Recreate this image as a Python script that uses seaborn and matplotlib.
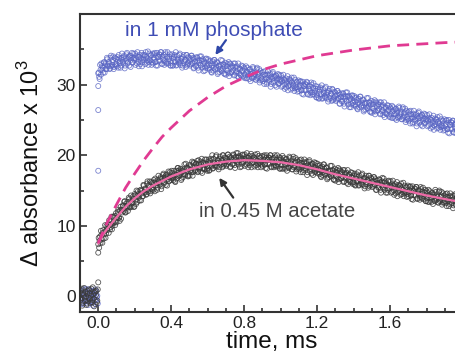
import numpy as np
import pandas as pd
import seaborn as sns
import matplotlib.pyplot as plt
from matplotlib.ticker import MultipleLocator

# ---------------- data ----------------
t_pre = np.round(np.arange(-0.1, 0.0, 0.005), 4)           # pre-trigger sampling grid (ms)
t_pre_b = np.round(np.arange(-0.0975, 0.0, 0.005), 4)
t_main = np.round(np.arange(0.0, 2.0, 0.005), 4)           # post-trigger sampling grid (ms)
t_main_b = np.round(np.arange(0.0025, 2.0, 0.005), 4)

blue_pre = [-0.4, 0.8, -1.0, 0.5, 0.0, -0.7, 1.1, -0.3, 0.6, -1.2,
            0.3, 0.9, -0.6, 0.2, -0.9, 0.7, -0.1, 1.0, -0.5, 0.1]
blue_pre_b = [0.5, -0.8, 0.2, -1.1, 0.9, -0.3, 0.6, -0.6, 1.0, 0.1,
              -0.9, 0.4, -0.2, 0.8, -1.3, 0.3, -0.5, 0.7, -0.1, -1.0]
black_pre = [0.6, -0.5, 1.1, -0.9, 0.2, -0.1, 0.7, -1.2, 0.4, -0.7,
             1.0, -0.4, 0.1, -0.8, 1.3, -0.3, 0.5, -1.1, 0.8, -0.6]
black_pre_b = [-0.3, 0.9, -1.3, 0.4, 1.2, -0.6, 0.0, -1.0, 0.8, -0.2,
               0.5, -0.9, 1.1, -0.5, 0.3, -1.4, 0.7, 0.2, -0.8, 1.0]

blue_jump_t = [0.0, 0.0, 0.0]
blue_jump_y = [17.8, 26.4, 29.8]
black_jump_t = [0.0, 0.0]
black_jump_y = [2.0, 6.2]

blue_main = [
    31.6, 31.1, 32.8, 31.4, 32.6, 32.4, 33.1, 31.7, 33.0, 32.2, 33.6, 32.6, 33.0, 32.3, 34.1, 32.8, 33.5, 32.2, 33.8, 32.7,
    32.9, 33.9, 32.4, 33.7, 33.3, 32.7, 34.4, 33.2, 33.9, 32.3, 33.7, 34.3, 33.0, 33.7, 32.7, 34.1, 33.5, 34.5, 33.2, 33.7,
    33.8, 32.8, 34.1, 34.6, 33.2, 33.9, 32.9, 33.7, 32.6, 34.2, 33.5, 34.1, 34.6, 33.1, 33.7, 32.8, 34.4, 33.4, 34.2, 33.2,
    33.0, 33.8, 34.5, 33.2, 34.1, 32.7, 33.9, 34.3, 33.4, 34.6, 32.9, 33.7, 34.2, 33.3, 34.3, 33.0, 34.6, 33.4, 33.9, 32.7,
    33.1, 34.3, 32.7, 33.9, 33.3, 34.6, 32.8, 33.6, 33.2, 34.2, 32.8, 33.7, 32.4, 33.9, 33.3, 33.5, 32.5, 34.2, 32.9, 33.9,
    33.4, 32.9, 34.1, 33.1, 33.8, 32.4, 33.3, 32.6, 33.9, 33.4, 32.0, 33.5, 32.8, 34.0, 32.4, 32.9, 33.3, 32.0, 33.6, 32.6,
    32.3, 33.3, 32.4, 33.4, 31.8, 32.7, 32.0, 33.5, 33.0, 32.4, 33.2, 31.5, 32.6, 31.8, 32.8, 32.0, 33.4, 32.9, 31.6, 32.6,
    31.4, 32.6, 32.0, 33.2, 31.6, 32.9, 31.7, 32.6, 32.1, 31.3, 33.0, 31.7, 32.6, 32.2, 31.0, 32.3, 31.4, 32.7, 32.0, 31.2,
    32.4, 31.4, 32.6, 30.9, 31.8, 31.5, 32.1, 30.5, 31.8, 30.9, 32.3, 31.1, 31.5, 30.7, 32.4, 31.1, 31.7, 30.3, 31.9, 30.7,
    30.8, 31.8, 30.1, 31.4, 31.0, 30.3, 31.9, 30.7, 31.4, 29.7, 31.1, 31.6, 30.3, 30.9, 29.9, 31.3, 30.6, 31.5, 30.2, 30.7,
    30.7, 29.7, 30.9, 31.4, 30.0, 30.6, 29.6, 30.4, 29.2, 30.8, 30.0, 30.5, 31.0, 29.5, 30.0, 29.1, 30.7, 29.6, 30.4, 29.4,
    29.1, 29.9, 30.5, 29.2, 30.0, 28.6, 29.8, 30.1, 29.2, 30.3, 28.6, 29.4, 29.8, 28.9, 30.0, 28.6, 30.2, 28.9, 29.4, 28.2,
    28.5, 29.7, 28.0, 29.3, 28.7, 29.9, 28.1, 28.9, 28.4, 29.5, 28.1, 28.9, 27.6, 29.1, 28.4, 28.7, 27.7, 29.3, 28.0, 29.0,
    28.4, 27.9, 29.1, 28.1, 28.8, 27.3, 28.3, 27.6, 28.8, 28.3, 26.9, 28.4, 27.7, 28.9, 27.2, 27.8, 28.2, 26.8, 28.4, 27.4,
    27.1, 28.1, 27.2, 28.2, 26.6, 27.4, 26.8, 28.3, 27.7, 27.1, 27.9, 26.2, 27.3, 26.5, 27.4, 26.7, 28.1, 27.5, 26.2, 27.2,
    26.0, 27.2, 26.6, 27.8, 26.2, 27.4, 26.3, 27.2, 26.6, 25.8, 27.5, 26.2, 27.1, 26.7, 25.4, 26.8, 25.9, 27.1, 26.4, 25.6,
    26.8, 25.8, 27.0, 25.3, 26.3, 25.9, 26.5, 25.0, 26.2, 25.3, 26.7, 25.5, 25.9, 25.1, 26.8, 25.5, 26.1, 24.7, 26.3, 25.1,
    25.2, 26.2, 24.5, 25.8, 25.4, 24.7, 26.3, 25.1, 25.7, 24.1, 25.5, 26.0, 24.6, 25.3, 24.3, 25.7, 24.9, 25.9, 24.6, 25.1,
    25.1, 24.1, 25.3, 25.8, 24.4, 25.0, 24.0, 24.8, 23.6, 25.2, 24.4, 25.0, 25.4, 23.9, 24.5, 23.6, 25.1, 24.1, 24.9, 23.9,
    23.6, 24.4, 25.0, 23.7, 24.6, 23.1, 24.3, 24.7, 23.7, 24.9, 23.2, 24.0, 24.4, 23.5, 24.6, 23.3, 24.8, 23.6, 24.1, 22.9,
]

blue_main_b = [
    31.7, 30.8, 32.1, 33.0, 32.1, 31.7, 33.2, 32.7, 32.2, 33.8, 32.7, 33.2, 32.2, 33.8, 32.6, 33.2, 34.0, 32.5, 32.9, 33.7,
    32.6, 33.5, 34.2, 33.1, 32.4, 33.8, 33.5, 33.0, 34.1, 32.7, 33.4, 34.5, 33.2, 33.9, 34.1, 32.5, 33.8, 33.1, 34.4, 33.5,
    34.4, 33.6, 33.0, 33.9, 32.6, 34.2, 33.4, 34.5, 33.2, 33.7, 34.2, 32.9, 33.9, 33.4, 34.7, 33.2, 33.6, 34.1, 32.8, 34.4,
    33.5, 34.3, 33.2, 32.7, 34.5, 33.9, 33.4, 34.2, 34.6, 33.0, 34.0, 33.5, 32.8, 34.6, 33.2, 33.9, 33.0, 33.6, 34.3, 32.7,
    34.0, 32.7, 33.7, 34.2, 33.2, 32.7, 34.1, 33.5, 33.0, 34.4, 33.3, 33.7, 32.7, 34.2, 33.0, 33.5, 34.2, 32.7, 33.1, 33.8,
    32.7, 33.6, 34.1, 33.0, 32.3, 33.7, 33.2, 32.7, 33.8, 32.4, 33.1, 34.0, 32.7, 33.4, 33.6, 31.9, 33.1, 32.4, 33.7, 32.8,
    33.6, 32.8, 32.1, 33.0, 31.7, 33.3, 32.4, 33.5, 32.2, 32.7, 33.1, 31.7, 32.7, 32.2, 33.5, 31.9, 32.3, 32.8, 31.5, 33.1,
    32.1, 32.9, 31.7, 31.2, 33.0, 32.4, 31.8, 32.6, 33.0, 31.4, 32.5, 31.9, 31.2, 33.0, 31.6, 32.2, 31.3, 31.9, 32.6, 31.0,
    32.2, 30.9, 31.8, 32.4, 31.3, 30.8, 32.2, 31.5, 31.0, 32.5, 31.4, 31.7, 30.7, 32.2, 30.9, 31.5, 32.2, 30.6, 31.0, 31.7,
    30.5, 31.4, 31.9, 30.8, 30.1, 31.4, 31.0, 30.5, 31.6, 30.1, 30.8, 31.8, 30.5, 31.1, 31.3, 29.7, 30.9, 30.1, 31.4, 30.5,
    31.3, 30.5, 29.8, 30.7, 29.4, 30.9, 30.1, 31.2, 29.8, 30.3, 30.7, 29.3, 30.3, 29.8, 31.0, 29.5, 29.9, 30.3, 29.0, 30.6,
    29.6, 30.4, 29.2, 28.7, 30.4, 29.8, 29.3, 30.0, 30.4, 28.7, 29.8, 29.3, 28.5, 30.3, 28.9, 29.5, 28.6, 29.1, 29.8, 28.2,
    29.4, 28.1, 29.0, 29.6, 28.6, 28.0, 29.4, 28.8, 28.2, 29.7, 28.6, 28.9, 27.9, 29.4, 28.1, 28.7, 29.4, 27.8, 28.2, 28.9,
    27.7, 28.6, 29.1, 28.0, 27.3, 28.6, 28.2, 27.7, 28.7, 27.3, 28.0, 28.9, 27.6, 28.3, 28.4, 26.8, 28.0, 27.2, 28.5, 27.6,
    28.4, 27.6, 26.9, 27.8, 26.5, 28.0, 27.2, 28.3, 26.9, 27.4, 27.8, 26.4, 27.4, 26.9, 28.1, 26.6, 27.0, 27.4, 26.1, 27.7,
    26.7, 27.5, 26.3, 25.8, 27.6, 26.9, 26.4, 27.2, 27.5, 25.9, 27.0, 26.4, 25.7, 27.5, 26.0, 26.7, 25.8, 26.3, 27.0, 25.4,
    26.6, 25.3, 26.2, 26.8, 25.8, 25.2, 26.6, 26.0, 25.4, 26.9, 25.8, 26.1, 25.1, 26.6, 25.3, 25.9, 26.6, 25.0, 25.4, 26.1,
    24.9, 25.8, 26.3, 25.2, 24.5, 25.8, 25.4, 24.9, 25.9, 24.5, 25.2, 26.2, 24.8, 25.5, 25.7, 24.1, 25.2, 24.5, 25.8, 24.9,
    25.7, 24.9, 24.2, 25.1, 23.8, 25.3, 24.5, 25.6, 24.2, 24.7, 25.1, 23.8, 24.7, 24.2, 25.5, 24.0, 24.3, 24.8, 23.5, 25.1,
    24.1, 24.9, 23.7, 23.2, 25.0, 24.3, 23.8, 24.6, 24.9, 23.3, 24.4, 23.9, 23.1, 24.9, 23.5, 24.2, 23.2, 23.8, 24.5, 22.9,
]

black_main = [
    7.4, 6.9, 8.5, 9.3, 8.1, 9.0, 8.2, 9.2, 8.3, 10.0, 9.4, 10.2, 10.8, 9.5, 10.2, 9.5, 11.3, 10.4, 11.4, 10.6,
    10.5, 11.5, 12.3, 11.2, 12.2, 11.0, 12.3, 12.9, 12.1, 13.5, 11.9, 12.8, 13.4, 12.6, 13.8, 12.6, 14.3, 13.2, 13.8, 12.7,
    14.5, 13.6, 15.0, 13.4, 14.5, 14.3, 15.0, 13.6, 15.0, 14.2, 15.7, 14.7, 15.2, 14.5, 16.3, 15.1, 15.8, 14.6, 16.2, 15.1,
    15.4, 16.5, 14.9, 16.3, 16.0, 15.4, 17.1, 16.0, 16.7, 15.2, 16.7, 17.2, 16.0, 16.8, 15.8, 17.3, 16.6, 17.7, 16.4, 17.0,
    16.5, 17.5, 16.8, 17.8, 16.3, 17.2, 16.7, 18.2, 17.8, 17.2, 18.1, 16.5, 17.7, 16.9, 18.0, 17.3, 18.8, 18.3, 17.1, 18.1,
    17.1, 18.3, 17.9, 19.1, 17.6, 18.9, 17.8, 18.8, 18.3, 17.6, 19.3, 18.1, 19.1, 18.7, 17.5, 19.0, 18.1, 19.4, 18.8, 18.0,
    18.2, 19.4, 17.9, 19.2, 18.6, 20.0, 18.2, 19.0, 18.6, 19.8, 18.4, 19.3, 18.0, 19.5, 19.0, 19.3, 18.3, 20.0, 18.7, 19.7,
    19.2, 18.7, 20.1, 19.1, 19.8, 18.4, 19.4, 18.7, 20.1, 19.6, 18.2, 19.8, 19.1, 20.3, 18.7, 19.3, 19.7, 18.4, 20.0, 19.0,
    19.5, 18.5, 19.8, 20.3, 18.9, 19.6, 18.6, 19.4, 18.3, 19.9, 19.0, 19.6, 20.1, 18.6, 19.2, 18.3, 19.9, 18.9, 19.7, 18.7,
    18.5, 19.3, 20.0, 18.7, 19.6, 18.1, 19.3, 19.7, 18.8, 20.0, 18.3, 19.1, 19.6, 18.6, 19.7, 18.4, 20.0, 18.8, 19.3, 18.1,
    19.6, 18.6, 19.9, 18.1, 19.1, 18.8, 19.4, 17.8, 19.1, 18.2, 19.6, 18.5, 18.8, 18.0, 19.8, 18.5, 19.1, 17.7, 19.3, 18.1,
    18.3, 19.3, 17.6, 18.9, 18.5, 17.9, 19.4, 18.2, 18.9, 17.2, 18.6, 19.1, 17.8, 18.4, 17.4, 18.8, 18.0, 19.0, 17.7, 18.1,
    17.5, 18.5, 17.6, 18.6, 17.0, 17.8, 17.2, 18.7, 18.1, 17.5, 18.3, 16.6, 17.7, 16.9, 17.8, 17.1, 18.5, 17.9, 16.6, 17.6,
    16.4, 17.6, 17.0, 18.2, 16.6, 17.8, 16.7, 17.6, 17.0, 16.2, 17.9, 16.7, 17.5, 17.1, 15.9, 17.3, 16.3, 17.6, 16.9, 16.1,
    16.2, 17.4, 15.7, 17.0, 16.4, 17.6, 15.8, 16.6, 16.1, 17.2, 15.8, 16.7, 15.3, 16.8, 16.2, 16.5, 15.4, 17.1, 15.8, 16.8,
    16.2, 15.7, 16.9, 15.9, 16.6, 15.1, 16.1, 15.4, 16.6, 16.1, 14.7, 16.3, 15.5, 16.7, 15.1, 15.7, 16.0, 14.7, 16.3, 15.3,
    15.7, 14.7, 15.9, 16.4, 15.0, 15.6, 14.6, 15.4, 14.2, 15.8, 15.0, 15.6, 16.0, 14.5, 15.1, 14.2, 15.7, 14.7, 15.5, 14.5,
    14.2, 15.0, 15.6, 14.3, 15.2, 13.7, 14.9, 15.3, 14.3, 15.5, 13.8, 14.6, 15.0, 14.1, 15.2, 13.9, 15.4, 14.2, 14.7, 13.5,
    14.9, 13.9, 15.1, 13.4, 14.4, 14.1, 14.6, 13.1, 14.4, 13.5, 14.8, 13.7, 14.1, 13.3, 15.0, 13.7, 14.3, 13.0, 14.6, 13.3,
    13.5, 14.5, 12.8, 14.1, 13.7, 13.1, 14.6, 13.4, 14.1, 12.5, 13.8, 14.3, 13.0, 13.7, 12.6, 14.0, 13.3, 14.3, 13.0, 13.4,
]

black_main_b = [
    8.3, 7.9, 7.6, 8.7, 7.6, 9.4, 8.8, 10.1, 8.9, 9.6, 10.2, 9.0, 10.2, 9.8, 11.3, 10.0, 10.5, 11.2, 10.1, 11.8,
    11.1, 12.0, 11.1, 10.7, 12.7, 12.2, 11.9, 12.8, 13.4, 11.9, 13.1, 12.7, 12.1, 14.0, 12.7, 13.5, 12.7, 13.4, 14.2, 12.7,
    14.3, 13.1, 14.2, 14.9, 14.0, 13.6, 15.1, 14.6, 14.2, 15.8, 14.8, 15.3, 14.4, 16.0, 14.8, 15.5, 16.3, 14.9, 15.3, 16.1,
    15.1, 16.1, 16.7, 15.7, 15.1, 16.5, 16.2, 15.8, 16.9, 15.6, 16.4, 17.4, 16.2, 17.0, 17.2, 15.7, 16.9, 16.3, 17.6, 16.8,
    17.8, 17.0, 16.5, 17.4, 16.2, 17.8, 17.1, 18.2, 17.0, 17.5, 18.0, 16.7, 17.8, 17.3, 18.7, 17.2, 17.7, 18.2, 17.0, 18.6,
    17.8, 18.6, 17.6, 17.1, 19.0, 18.4, 17.9, 18.8, 19.2, 17.7, 18.8, 18.3, 17.7, 19.5, 18.1, 18.9, 18.0, 18.6, 19.4, 17.8,
    19.1, 17.8, 18.9, 19.5, 18.5, 18.1, 19.5, 18.9, 18.4, 20.0, 18.9, 19.3, 18.3, 19.8, 18.7, 19.3, 20.0, 18.5, 18.9, 19.6,
    18.5, 19.4, 20.1, 19.0, 18.3, 19.7, 19.3, 18.8, 20.0, 18.6, 19.3, 20.3, 19.0, 19.7, 19.9, 18.3, 19.5, 18.8, 20.1, 19.2,
    20.1, 19.3, 18.7, 19.6, 18.3, 19.9, 19.1, 20.2, 18.9, 19.4, 19.7, 18.4, 19.4, 18.9, 20.2, 18.7, 19.1, 19.6, 18.3, 19.9,
    19.0, 19.8, 18.7, 18.2, 20.0, 19.3, 18.8, 19.6, 20.0, 18.4, 19.5, 19.0, 18.3, 20.0, 18.6, 19.3, 18.4, 19.0, 19.7, 18.1,
    19.4, 18.1, 19.1, 19.6, 18.6, 18.1, 19.5, 18.8, 18.3, 19.8, 18.7, 19.1, 18.0, 19.5, 18.3, 18.9, 19.6, 18.0, 18.4, 19.1,
    18.0, 18.9, 19.4, 18.3, 17.6, 19.0, 18.5, 18.0, 19.1, 17.6, 18.3, 19.3, 18.0, 18.6, 18.8, 17.2, 18.3, 17.6, 18.9, 17.9,
    18.8, 18.0, 17.3, 18.2, 16.9, 18.4, 17.6, 18.7, 17.3, 17.8, 18.2, 16.8, 17.8, 17.3, 18.5, 17.0, 17.4, 17.8, 16.5, 18.1,
    17.1, 17.9, 16.7, 16.2, 18.0, 17.3, 16.8, 17.6, 17.9, 16.3, 17.4, 16.9, 16.1, 17.9, 16.5, 17.2, 16.2, 16.8, 17.5, 15.9,
    17.1, 15.8, 16.7, 17.3, 16.3, 15.7, 17.1, 16.5, 15.9, 17.4, 16.3, 16.7, 15.6, 17.1, 15.9, 16.5, 17.1, 15.6, 16.0, 16.7,
    15.5, 16.4, 16.9, 15.8, 15.1, 16.4, 16.0, 15.5, 16.5, 15.1, 15.8, 16.8, 15.4, 16.1, 16.3, 14.7, 15.8, 15.1, 16.4, 15.5,
    16.3, 15.5, 14.8, 15.7, 14.4, 15.9, 15.1, 16.2, 14.8, 15.3, 15.7, 14.4, 15.3, 14.8, 16.1, 14.6, 14.9, 15.4, 14.1, 15.7,
    14.7, 15.5, 14.3, 13.8, 15.6, 14.9, 14.4, 15.2, 15.5, 13.9, 15.0, 14.5, 13.7, 15.5, 14.1, 14.8, 13.8, 14.4, 15.1, 13.5,
    14.7, 13.4, 14.3, 14.9, 13.9, 13.4, 14.7, 14.1, 13.6, 15.1, 13.9, 14.3, 13.3, 14.8, 13.5, 14.1, 14.8, 13.3, 13.7, 14.3,
    13.2, 14.1, 14.6, 13.5, 12.8, 14.2, 13.7, 13.2, 14.3, 12.9, 13.5, 14.5, 13.2, 13.9, 14.0, 12.4, 13.6, 12.9, 14.2, 13.2,
]

fit_t = [0.0, 0.025, 0.05, 0.075, 0.1, 0.15, 0.2, 0.25, 0.3, 0.4, 0.5, 0.6, 0.7, 0.8,
         0.9, 1.0, 1.1, 1.2, 1.3, 1.4, 1.5, 1.6, 1.7, 1.8, 1.9, 2.0]
fit_y = [7.5, 8.7, 9.6, 10.4, 11.2, 12.7, 13.9, 14.9, 15.7, 17.0, 18.0, 18.7, 19.1, 19.3,
         19.2, 19.0, 18.6, 18.0, 17.3, 16.7, 16.1, 15.5, 14.9, 14.3, 13.8, 13.3]

dash_t = [0.0, 0.05, 0.1, 0.15, 0.2, 0.25, 0.3, 0.35, 0.4, 0.5, 0.6, 0.7, 0.8, 0.9, 1.0,
          1.1, 1.2, 1.3, 1.4, 1.5, 1.6, 1.7, 1.8, 1.9, 2.0]
dash_y = [7.6, 10.5, 13.0, 15.4, 17.4, 19.3, 21.0, 22.6, 23.9, 26.3, 28.2, 29.8, 31.0, 32.1, 32.9,
          33.5, 34.1, 34.5, 34.9, 35.2, 35.5, 35.65, 35.8, 35.95, 36.05]

x_ticks = [0.0, 0.4, 0.8, 1.2, 1.6]
y_ticks = [0, 10, 20, 30]
label_phosphate = "in 1 mM phosphate"
label_acetate = "in 0.45 M acetate"

# ---------------- styling ----------------
sns.set_style("ticks")
plt.rcParams['font.family'] = ['Liberation Sans', 'DejaVu Sans']
plt.rcParams['mathtext.fontset'] = 'custom'
plt.rcParams['mathtext.rm'] = 'Liberation Sans'

BLUE = "#5a66c4"
BLACK = "#3a3a3a"
PINK = "#ee6aa7"
MAGENTA = "#e03a92"
SPINE = "#333333"

df_blue = pd.DataFrame({
    "t": np.concatenate([t_pre, t_pre_b, blue_jump_t, t_main, t_main_b]),
    "y": np.concatenate([blue_pre, blue_pre_b, blue_jump_y, blue_main, blue_main_b]),
})
df_black = pd.DataFrame({
    "t": np.concatenate([t_pre, t_pre_b, black_jump_t, t_main, t_main_b]),
    "y": np.concatenate([black_pre, black_pre_b, black_jump_y, black_main, black_main_b]),
})

fig = plt.figure(figsize=(4.55, 3.56), dpi=100)
ax = fig.add_axes([0.1758, 0.1236, 0.842, 0.837])

sns.scatterplot(data=df_blue, x="t", y="y", ax=ax, marker="o", s=13,
                facecolor="none", edgecolor=BLUE, linewidth=0.6, alpha=0.8, zorder=2)
sns.scatterplot(data=df_black, x="t", y="y", ax=ax, marker="o", s=13,
                facecolor="none", edgecolor=BLACK, linewidth=0.6, alpha=0.85, zorder=3)
sns.lineplot(x=fit_t, y=fit_y, ax=ax, color=PINK, linewidth=1.6, zorder=4)
sns.lineplot(x=dash_t, y=dash_y, ax=ax, color=MAGENTA, linewidth=2.0,
             linestyle=(0, (4.3, 2.6)), zorder=4)

ax.set_xlim(-0.1, 2.0)
ax.set_ylim(-2.2, 40)
ax.set_xticks(x_ticks)
ax.set_xticklabels([f"{v:.1f}" for v in x_ticks])
ax.set_yticks(y_ticks)
ax.xaxis.set_minor_locator(MultipleLocator(0.1))
ax.yaxis.set_minor_locator(MultipleLocator(5))
ax.tick_params(which="both", direction="in", top=False, right=False,
               width=1.2, color=SPINE, labelsize=12.5, labelcolor="#222222")
ax.tick_params(which="major", length=5, pad=3)
ax.tick_params(which="minor", length=3)
for sp in ax.spines.values():
    sp.set_linewidth(1.5)
    sp.set_color(SPINE)

ax.set_xlabel("time, ms", fontsize=17.5, labelpad=0, color="#111111")
ax.set_ylabel(r"Δ absorbance x 10$^{3}$", fontsize=17, labelpad=9, color="#111111")

ax.text(0.633, 37.7, label_phosphate, color="#3f4db5", fontsize=15, ha="center", va="center")
ax.annotate("", xy=(0.642, 34.2), xytext=(0.70, 36.3),
            arrowprops=dict(arrowstyle="-|>", color="#2f47a8", lw=1.6, mutation_scale=10,
                            shrinkA=0, shrinkB=0))
ax.text(0.981, 12.0, label_acetate, color="#454545", fontsize=14.7, ha="center", va="center")
ax.annotate("", xy=(0.663, 16.8), xytext=(0.74, 14.0),
            arrowprops=dict(arrowstyle="-|>", color="#333333", lw=1.6, mutation_scale=10,
                            shrinkA=0, shrinkB=0))

fig.savefig("out.png", dpi=100)
